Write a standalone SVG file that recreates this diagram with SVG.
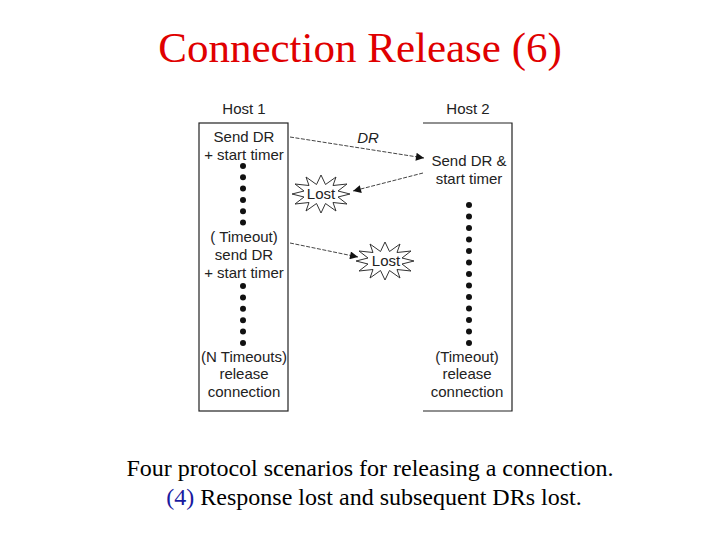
<svg xmlns="http://www.w3.org/2000/svg" width="720" height="540" viewBox="0 0 720 540">
<style>
.t{font-family:"Liberation Sans",Arial,sans-serif;font-size:15px;fill:#222;text-anchor:middle}
.box{fill:none;stroke:#222;stroke-width:1.2}
.dot{fill:#111}
.con{stroke:#444;stroke-width:1;stroke-dasharray:4 1.5;fill:none}
.burst{fill:#fff;stroke:#333;stroke-width:1}
</style>
<defs>
<marker id="ah" viewBox="0 0 10 10" refX="10" refY="5" markerWidth="10" markerHeight="8" markerUnits="userSpaceOnUse" orient="auto">
<path d="M0,0 L10,5 L0,10 Z" fill="#111"/>
</marker>
<polygon id="burst" class="burst" points="29,0 17,3 26,10 12,8.5 15,17 4.5,9.5 0,19 -4.5,9.5 -15,17 -12,8.5 -26,10 -17,3 -29,0 -17,-3 -26,-10 -12,-8.5 -15,-17 -4.5,-9.5 0,-19 4.5,-9.5 15,-17 12,-8.5 26,-10 17,-3"/>
<circle id="d" class="dot" r="3"/>
</defs>
<rect width="720" height="540" fill="#fff"/>
<g id="title">
<text x="360" y="62" font-family="'Liberation Serif','Times New Roman',serif" font-size="43" fill="#e00000" text-anchor="middle">Connection Release (6)</text>
</g>
<g id="host1">
<text class="t" x="244" y="114">Host 1</text>
<rect class="box" x="199" y="123" width="89" height="288"/>
<text class="t" x="244" y="142">Send DR</text>
<text class="t" x="244" y="160">+ start timer</text>
<use href="#d" x="243" y="166"/><use href="#d" x="243" y="177.3"/><use href="#d" x="243" y="188.6"/><use href="#d" x="243" y="199.9"/><use href="#d" x="243" y="211.2"/><use href="#d" x="243" y="222.5"/>
<text class="t" x="244" y="242">( Timeout)</text>
<text class="t" x="244" y="260">send DR</text>
<text class="t" x="244" y="278">+ start timer</text>
<use href="#d" x="243" y="286"/><use href="#d" x="243" y="297.4"/><use href="#d" x="243" y="308.8"/><use href="#d" x="243" y="320.2"/><use href="#d" x="243" y="331.6"/><use href="#d" x="243" y="343"/>
<text class="t" x="244" y="362">(N Timeouts)</text>
<text class="t" x="244" y="379">release</text>
<text class="t" x="244" y="397">connection</text>
</g>
<g id="host2">
<text class="t" x="468" y="114">Host 2</text>
<path class="box" d="M423,123 H512 V411 H423"/>
<text class="t" x="469" y="166">Send DR &amp;</text>
<text class="t" x="469" y="184">start timer</text>
<use href="#d" x="469" y="205"/><use href="#d" x="469" y="216.5"/><use href="#d" x="469" y="228"/><use href="#d" x="469" y="239.5"/><use href="#d" x="469" y="251"/><use href="#d" x="469" y="262.5"/><use href="#d" x="469" y="274"/><use href="#d" x="469" y="285.5"/><use href="#d" x="469" y="297"/><use href="#d" x="469" y="308.5"/><use href="#d" x="469" y="320"/><use href="#d" x="469" y="331.5"/><use href="#d" x="469" y="343"/>
<text class="t" x="467" y="362">(Timeout)</text>
<text class="t" x="467" y="379">release</text>
<text class="t" x="467" y="397">connection</text>
</g>
<g id="lost1">
<use href="#burst" transform="translate(321,194)"/>
<text class="t" x="321" y="199">Lost</text>
</g>
<g id="lost2">
<use href="#burst" transform="translate(385,261)"/>
<text class="t" x="386" y="266">Lost</text>
</g>
<g id="connectors">
<line class="con" x1="290" y1="137" x2="424" y2="158" marker-end="url(#ah)"/>
<text x="368" y="143" font-family="'Liberation Sans',Arial,sans-serif" font-size="15" font-style="italic" fill="#222" text-anchor="middle">DR</text>
<line class="con" x1="423" y1="173" x2="353" y2="191" marker-end="url(#ah)"/>
<line class="con" x1="290" y1="243" x2="358" y2="257" marker-end="url(#ah)"/>
</g>
<g id="caption">
<text x="370" y="476" font-family="'Liberation Serif','Times New Roman',serif" font-size="24" fill="#000" text-anchor="middle">Four protocol scenarios for releasing a connection.</text>
<text x="374" y="505" font-family="'Liberation Serif','Times New Roman',serif" font-size="24" fill="#000" text-anchor="middle"><tspan fill="#1a1aa0">(4)</tspan> Response lost and subsequent DRs lost.</text>
</g>
</svg>
